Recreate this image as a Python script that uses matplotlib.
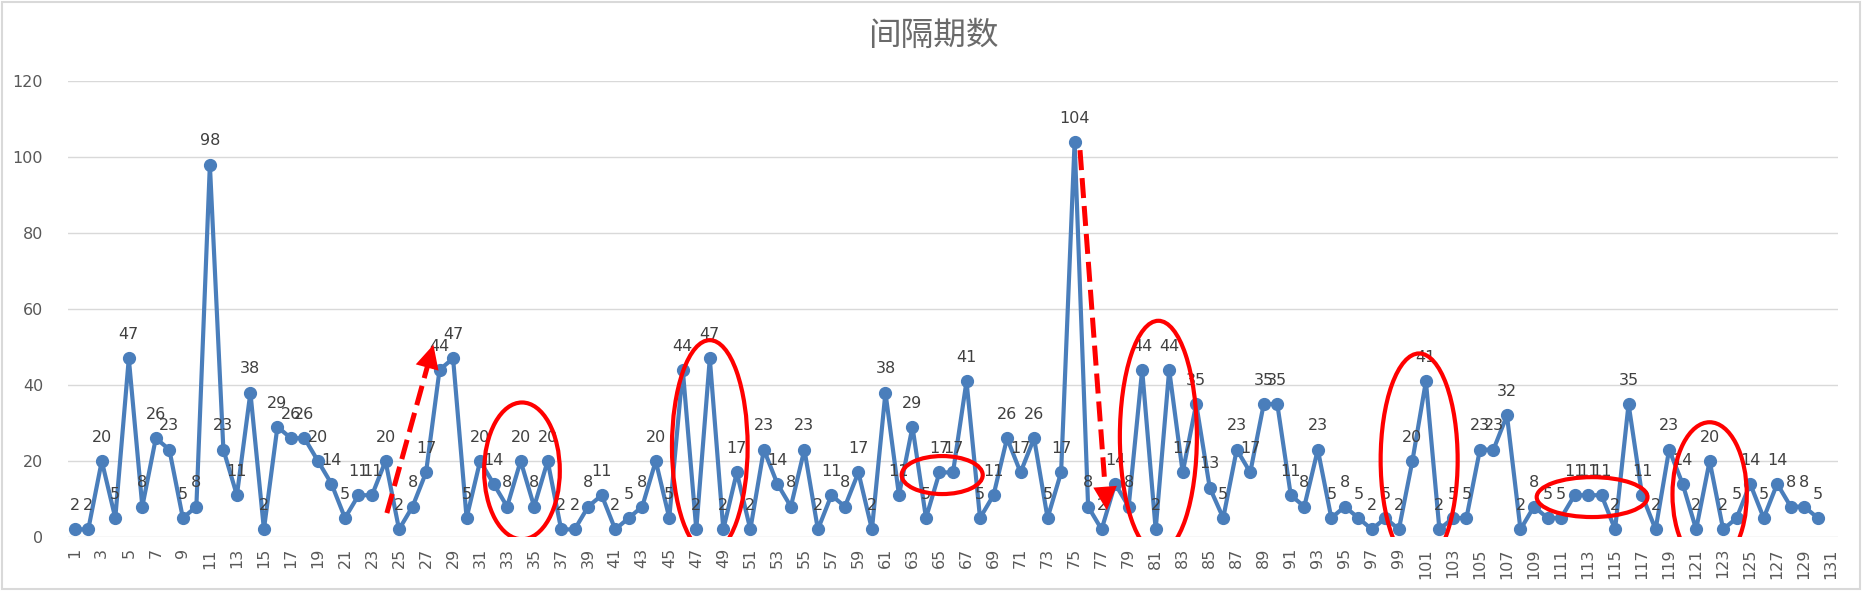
import matplotlib.pyplot as plt
from matplotlib.patches import Ellipse, Rectangle

# 间隔期数, one value per period (1..130)
values = [2, 2, 20, 5, 47, 8, 26, 23, 5, 8,
          98, 23, 11, 38, 2, 29, 26, 26, 20, 14,
          5, 11, 11, 20, 2, 8, 17, 44, 47, 5,
          20, 14, 8, 20, 8, 20, 2, 2, 8, 11,
          2, 5, 8, 20, 5, 44, 2, 47, 2, 17,
          2, 23, 14, 8, 23, 2, 11, 8, 17, 2,
          38, 11, 29, 5, 17, 17, 41, 5, 11, 26,
          17, 26, 5, 17, 104, 8, 2, 14, 8, 44,
          2, 44, 17, 35, 13, 5, 23, 17, 35, 35,
          11, 8, 23, 5, 8, 5, 2, 5, 2, 20,
          41, 2, 5, 5, 23, 23, 32, 2, 8, 5,
          5, 11, 11, 11, 2, 35, 11, 2, 23, 14,
          2, 20, 2, 5, 14, 5, 14, 8, 8, 5]
periods = list(range(1, len(values) + 1))
n_categories = 131
title = '间隔期数'

# hand-drawn red marks: (center x, center y, width, height)
ellipses = [(34.1, 17.4, 5.6, 36), (48.0, 23.8, 5.6, 56), (65.2, 16.3, 6.0, 10),
            (81.2, 26.4, 5.7, 61), (100.5, 20.3, 5.7, 56), (113.3, 10.5, 8.2, 10.5),
            (122.0, 11.2, 5.5, 38)]
arrows = [((24.1, 6.3), (27.6, 51.3)), ((75.4, 101.8), (77.4, 6.3))]

blue = '#4A7EBB'
red = '#FF0000'
grey_txt = '#595959'

fig = plt.figure(figsize=(18.66, 5.93), dpi=100)
ax = fig.add_axes([68 / 1866, 1 - 537 / 593, (1838 - 68) / 1866, (537 - 81) / 593])

ax.plot(periods, values, color=blue, lw=3, marker='o', markersize=8.5, zorder=3)
for x, v in zip(periods, values):
    ax.annotate(str(v), (x, v), xytext=(0, 17), textcoords='offset points',
                ha='center', va='center', fontsize=11.5, color='#404040', zorder=4)

for cx, cy, w, h in ellipses:
    ax.add_patch(Ellipse((cx, cy), w, h, fill=False, ec=red, lw=3, zorder=5))

for (x0, y0), (x1, y1) in arrows:
    # dashed shaft stops a little short, solid head on the tip
    fx = x0 + (x1 - x0) * 0.9
    fy = y0 + (y1 - y0) * 0.9
    ax.plot([x0, fx], [y0, fy], color=red, lw=3.6, dashes=(4, 1.6), zorder=5)
    ax.annotate('', xy=(x1, y1), xytext=(fx, fy),
                arrowprops=dict(arrowstyle='-|>,head_length=1.0,head_width=0.5',
                                color=red, lw=0, mutation_scale=17), zorder=5)

ax.set_xlim(0.5, n_categories + 0.5)
ax.set_ylim(0, 120)
ax.set_yticks(range(0, 121, 20))
ax.set_xticks(range(1, n_categories + 1, 2))
ax.set_xticklabels([str(i) for i in range(1, n_categories + 1, 2)], rotation=90)
ax.tick_params(axis='x', length=0, pad=8, labelsize=11.5, labelcolor=grey_txt)
ax.tick_params(axis='y', length=0, pad=18, labelsize=11.5, labelcolor=grey_txt)
ax.grid(axis='y', color='#D9D9D9', lw=1)
ax.set_axisbelow(True)
for s in ax.spines.values():
    s.set_visible(False)

fig.text(933 / 1866, 1 - 36 / 593, title, ha='center', va='center', fontsize=23.5,
         color='#6A6A6A', family=['Noto Sans CJK SC', 'DejaVu Sans'], fontweight='light')

fig.add_artist(Rectangle((0.001, 0.007), 1858 / 1866, 0.99, transform=fig.transFigure,
                         fill=False, ec='#D9D9D9', lw=1.5))

fig.savefig('out.png', dpi=100)
